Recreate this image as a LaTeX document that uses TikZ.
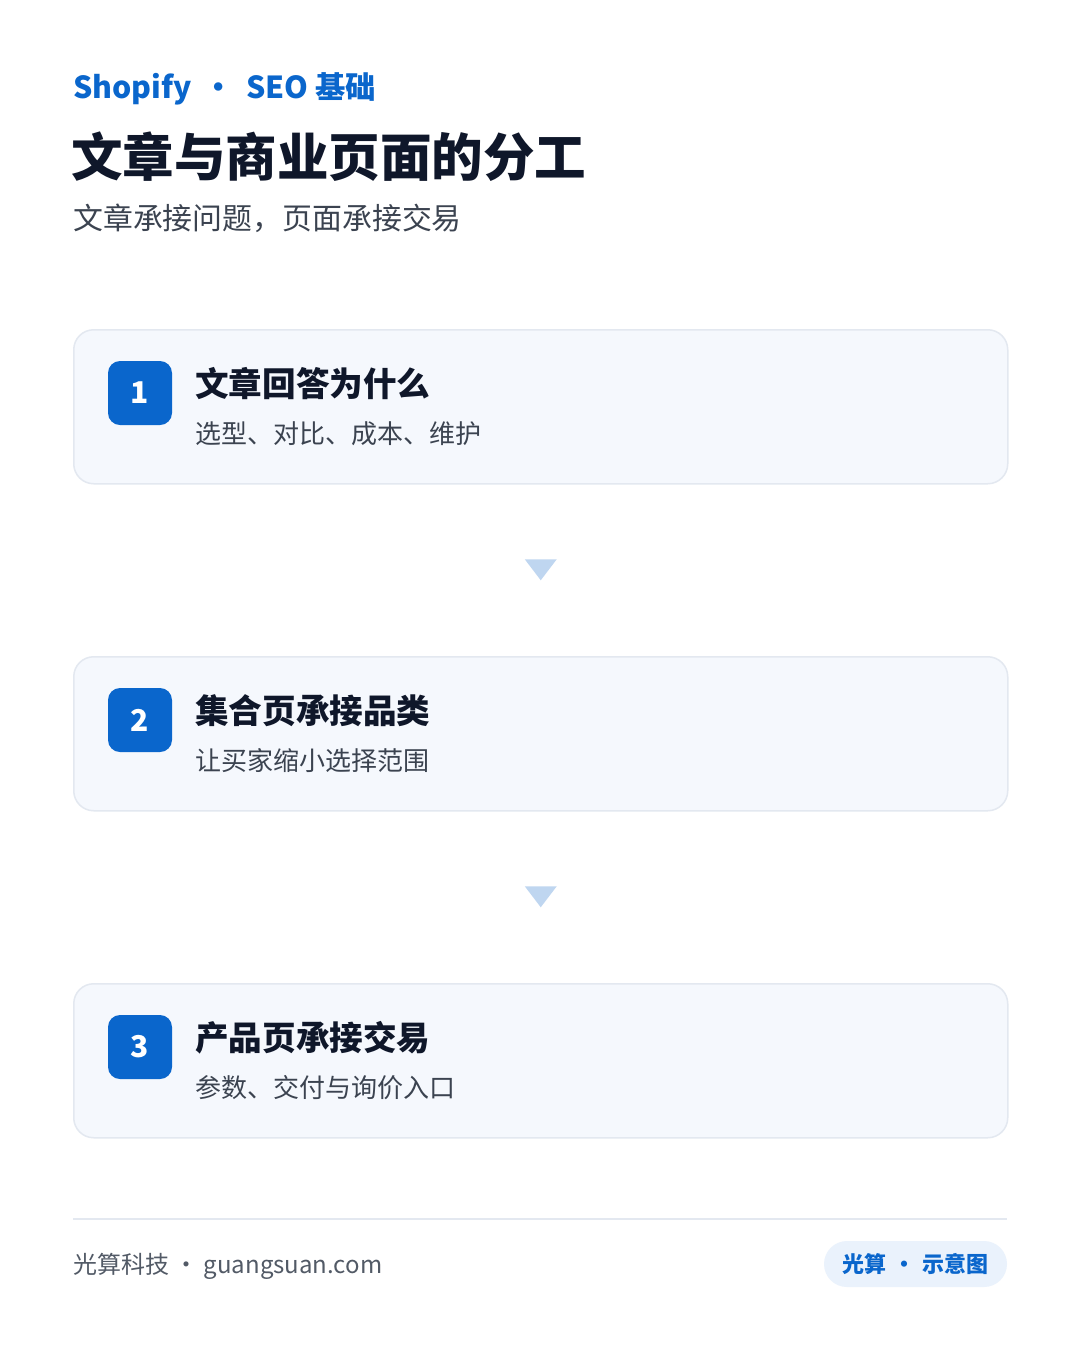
\documentclass[tikz,border=0pt]{standalone}
\usepackage{fontspec}
\setmainfont{Noto Sans CJK SC}
\usepackage{xcolor}
\usetikzlibrary{positioning,calc}

\definecolor{brandblue}{HTML}{0A66CC}
\definecolor{titledark}{HTML}{0F172A}
\definecolor{subgray}{HTML}{3B4350}
\definecolor{footgray}{HTML}{525A66}
\definecolor{cardfill}{HTML}{F5F8FD}
\definecolor{cardline}{HTML}{E3E8F0}
\definecolor{triblue}{HTML}{BFD6F0}
\definecolor{pillfill}{HTML}{EAF2FC}

\begin{document}
\begin{tikzpicture}[x=1pt,y=-1pt,
    card/.style={draw=cardline, line width=1.5pt, fill=cardfill, rounded corners=20pt,
        minimum width=934pt, minimum height=154pt, anchor=north west, inner sep=0pt},
    badge/.style={fill=brandblue, rounded corners=12pt, minimum size=64pt, inner sep=0pt,
        text=white, font=\fontsize{30}{30}\selectfont\bfseries},
    cardtitle/.style={anchor=west, inner sep=0pt, text=titledark, font=\fontsize{33.6}{33.6}\selectfont\bfseries},
    cardsub/.style={anchor=west, inner sep=0pt, text=subgray, font=\fontsize{26}{26}\selectfont},
    pill/.style={fill=pillfill, rounded corners=23pt, minimum width=183pt, minimum height=46pt,
        inner sep=0pt, text=brandblue, font=\fontsize{22}{22}\selectfont\bfseries}]
    % Page
    \fill[white] (0,0) rectangle (1080,1350);
    \useasboundingbox (0,0) rectangle (1080,1350);

    % Header
    \node[anchor=west, inner sep=0pt, text=brandblue, font=\fontsize{30.3}{30}\selectfont\bfseries]
        (kicker) at (73,89) {Shopify\hspace{0.4em}•\hspace{0.4em}SEO 基础};
    \node[anchor=west, inner sep=0pt, text=titledark, font=\fontsize{51.5}{52}\selectfont\bfseries]
        (title) at (71,157) {文章与商业页面的分工};
    \node[anchor=west, inner sep=0pt, text=subgray, font=\fontsize{29.9}{30}\selectfont]
        (subtitle) at (73,218) {文章承接问题，页面承接交易};

    % Cards
    \node[card] (c1) at (73,329) {};
    \node[card] (c2) at (73,656) {};
    \node[card] (c3) at (73,983) {};

    % Number badges
    \node[badge] (b1) at (140,393) {1};
    \node[badge] (b2) at (140,720) {2};
    \node[badge] (b3) at (140,1047) {3};

    % Card texts
    \node[cardtitle] (h1) at (195,384) {文章回答为什么};
    \node[cardsub] (s1) at (195,434) {选型、对比、成本、维护};
    \node[cardtitle] (h2) at (195,711) {集合页承接品类};
    \node[cardsub] (s2) at (195,761) {让买家缩小选择范围};
    \node[cardtitle] (h3) at (195,1038) {产品页承接交易};
    \node[cardsub] (s3) at (195,1088) {参数、交付与询价入口};

    % Down markers between cards
    \coordinate (m1) at ($(c1.south)!0.5!(c2.north)$);
    \coordinate (m2) at ($(c2.south)!0.5!(c3.north)$);
    \fill[triblue] ($(m1)+(-16,-11)$) -- ++(32,0) -- ++(-16,21) -- cycle;
    \fill[triblue] ($(m2)+(-16,-11)$) -- ++(32,0) -- ++(-16,21) -- cycle;

    % Footer
    \draw[cardline, line width=2pt] (73,1219) -- (1007,1219);
    \node[anchor=west, inner sep=0pt, text=footgray, font=\fontsize{24}{24}\selectfont]
        (site) at (73,1266) {光算科技\hspace{0.22em}•\hspace{0.22em}guangsuan.com};
    \node[pill] (tag) at (915.5,1264) {光算\hspace{0.3em}•\hspace{0.3em}示意图};
\end{tikzpicture}
\end{document}
